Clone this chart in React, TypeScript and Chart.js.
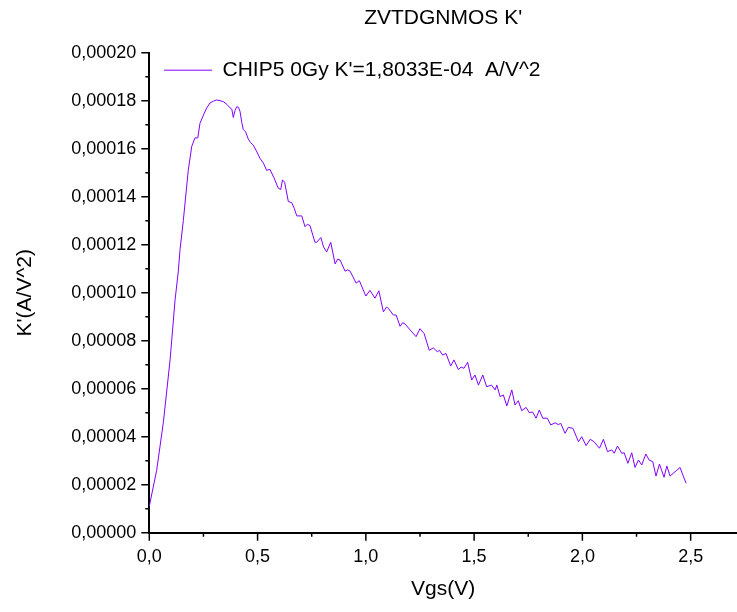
import React, { useEffect, useRef } from 'react';
import { Chart, registerables } from 'chart.js';

Chart.register(...registerables);

const CHART_TITLE = "ZVTDGNMOS K'";
const SERIES_LABEL = "CHIP5 0Gy K'=1,8033E-04  A/V^2";
const X_TITLE = 'Vgs(V)';
const Y_TITLE = "K'(A/V^2)";

const vgs = [
  0, 0.034, 0.065, 0.096, 0.119, 0.134, 0.142, 0.157, 0.18, 0.196,
  0.211, 0.224, 0.234, 0.25, 0.265, 0.28, 0.296, 0.311, 0.327, 0.342,
  0.358, 0.373, 0.381, 0.388, 0.396, 0.404, 0.412, 0.419, 0.427, 0.434,
  0.445, 0.457, 0.468, 0.48, 0.495, 0.511, 0.527, 0.542, 0.557, 0.575,
  0.596, 0.607, 0.615, 0.625, 0.642, 0.658, 0.67, 0.681, 0.697, 0.704,
  0.719, 0.73, 0.742, 0.765, 0.773, 0.792, 0.805, 0.819, 0.838, 0.858,
  0.87, 0.881, 0.904, 0.915, 0.927, 0.955, 0.97, 1.0, 1.019, 1.042,
  1.06, 1.081, 1.095, 1.104, 1.127, 1.14, 1.158, 1.17, 1.181, 1.204,
  1.232, 1.25, 1.269, 1.293, 1.312, 1.33, 1.34, 1.355, 1.37, 1.392,
  1.407, 1.427, 1.44, 1.453, 1.47, 1.489, 1.504, 1.52, 1.54, 1.558,
  1.58, 1.597, 1.605, 1.62, 1.635, 1.651, 1.674, 1.689, 1.704, 1.72,
  1.74, 1.755, 1.77, 1.786, 1.801, 1.817, 1.838, 1.854, 1.874, 1.889,
  1.9, 1.92, 1.935, 1.956, 1.982, 1.997, 2.017, 2.036, 2.054, 2.079,
  2.097, 2.116, 2.136, 2.147, 2.162, 2.182, 2.193, 2.21, 2.228, 2.243,
  2.259, 2.274, 2.293, 2.308, 2.325, 2.34, 2.356, 2.377, 2.39, 2.405,
  2.433, 2.451, 2.464, 2.479,
];

const kPrime = [
  1.1e-5, 2.6e-5, 4.6e-5, 7.2e-5, 9.7e-5, 10.9e-5, 11.8e-5, 13.0e-5, 15.1e-5, 16.1e-5,
  16.45e-5, 16.45e-5, 17.06e-5, 17.4e-5, 17.7e-5, 17.9e-5, 17.98e-5, 18.03e-5, 18.0e-5, 17.96e-5,
  17.85e-5, 17.7e-5, 17.65e-5, 17.3e-5, 17.6e-5, 17.75e-5, 17.72e-5, 17.55e-5, 17.1e-5, 16.8e-5,
  16.7e-5, 16.4e-5, 16.25e-5, 16.15e-5, 15.9e-5, 15.6e-5, 15.4e-5, 15.1e-5, 15.14e-5, 14.8e-5,
  14.35e-5, 14.3e-5, 14.7e-5, 14.6e-5, 13.8e-5, 13.75e-5, 13.5e-5, 13.2e-5, 13.2e-5, 13.2e-5,
  12.75e-5, 12.85e-5, 12.8e-5, 12.1e-5, 12.1e-5, 12.3e-5, 11.9e-5, 11.7e-5, 12.1e-5, 11.2e-5,
  11.4e-5, 11.36e-5, 10.9e-5, 10.95e-5, 10.9e-5, 10.4e-5, 10.5e-5, 9.86e-5, 10.1e-5, 9.77e-5,
  10.08e-5, 9.2e-5, 9.4e-5, 9.35e-5, 9.07e-5, 9.07e-5, 8.6e-5, 8.75e-5, 8.7e-5, 8.45e-5,
  8.17e-5, 8.5e-5, 8.3e-5, 7.6e-5, 7.7e-5, 7.54e-5, 7.6e-5, 7.4e-5, 7.47e-5, 6.95e-5,
  7.2e-5, 6.8e-5, 6.9e-5, 6.85e-5, 7.1e-5, 6.36e-5, 6.57e-5, 6.15e-5, 6.57e-5, 6.08e-5,
  6.15e-5, 5.95e-5, 6.15e-5, 5.67e-5, 5.74e-5, 5.28e-5, 5.95e-5, 5.32e-5, 5.5e-5, 5.08e-5,
  5.22e-5, 5.0e-5, 5.03e-5, 4.77e-5, 5.11e-5, 4.77e-5, 4.77e-5, 4.49e-5, 4.58e-5, 4.5e-5,
  4.56e-5, 4.14e-5, 4.39e-5, 4.35e-5, 3.79e-5, 4.0e-5, 3.63e-5, 3.89e-5, 3.79e-5, 3.52e-5,
  3.89e-5, 3.38e-5, 3.45e-5, 3.31e-5, 3.61e-5, 3.31e-5, 3.33e-5, 2.89e-5, 3.33e-5, 2.72e-5,
  3.03e-5, 2.82e-5, 3.28e-5, 3.03e-5, 2.96e-5, 2.36e-5, 2.86e-5, 2.31e-5, 2.78e-5, 2.36e-5,
  2.58e-5, 2.72e-5, 2.4e-5, 2.06e-5,
];

const xTicks = [0, 0.25, 0.5, 0.75, 1.0, 1.25, 1.5, 1.75, 2.0, 2.25, 2.5];
const yTicks = [
  0, 0.00001, 0.00002, 0.00003, 0.00004, 0.00005, 0.00006, 0.00007, 0.00008, 0.00009,
  0.0001, 0.00011, 0.00012, 0.00013, 0.00014, 0.00015, 0.00016, 0.00017, 0.00018, 0.00019,
  0.0002,
];
const X_MIN = 0;
const X_MAX = 2.714;
const Y_MIN = 0;
const Y_MAX = 0.0002;

const FONT = "'Liberation Sans', Arial, Helvetica, sans-serif";
const LINE_COLOR = '#8000FF';

const isMajorX = (v: number) => Math.abs(v * 2 - Math.round(v * 2)) < 1e-9;
const isMajorY = (v: number) => Math.round(v * 1e5) % 2 === 0;

export default function App() {
  const canvasRef = useRef<HTMLCanvasElement | null>(null);

  useEffect(() => {
    const canvas = canvasRef.current;
    if (!canvas) return;

    const tickPlugin = {
      id: 'originTicks',
      afterDraw(chart: any) {
        const { ctx, chartArea, scales } = chart;
        const xs = scales.x;
        const ys = scales.y;
        ctx.save();
        ctx.strokeStyle = '#000';
        ctx.lineWidth = 1.5;
        ctx.beginPath();
        xTicks.forEach((v) => {
          const px = xs.getPixelForValue(v);
          ctx.moveTo(px, chartArea.bottom);
          ctx.lineTo(px, chartArea.bottom + (isMajorX(v) ? 8 : 4));
        });
        yTicks.forEach((v) => {
          const py = ys.getPixelForValue(v);
          ctx.moveTo(chartArea.left, py);
          ctx.lineTo(chartArea.left - (isMajorY(v) ? 8 : 4), py);
        });
        ctx.stroke();
        ctx.restore();
      },
    };

    const legendPlace = {
      id: 'legendPlace',
      afterLayout(chart: any) {
        const lg = chart.legend;
        const ca = chart.chartArea;
        if (!lg || !ca) return;
        const w = lg.width;
        const h = lg.height;
        lg.left = ca.left + 7.7;
        lg.top = ca.top;
        lg.right = lg.left + w;
        lg.bottom = lg.top + h;
      },
    };

    const chart = new Chart(canvas, {
      type: 'line',
      data: {
        datasets: [
          {
            label: SERIES_LABEL,
            data: vgs.map((x, i) => ({ x, y: kPrime[i] })),
            borderColor: LINE_COLOR,
            backgroundColor: LINE_COLOR,
            borderWidth: 1,
            pointRadius: 0,
            tension: 0,
            fill: false,
          },
        ],
      },
      options: {
        responsive: false,
        animation: false,
        layout: { padding: 0 },
        plugins: {
          title: {
            display: true,
            text: CHART_TITLE,
            color: '#000',
            fullSize: false,
            font: { family: FONT, size: 21, weight: 'normal' },
            padding: { top: 5.4, bottom: 22.1 },
          },
          legend: {
            display: true,
            position: 'chartArea',
            align: 'start',
            labels: {
              color: '#000',
              font: { family: FONT, size: 21 },
              padding: 7,
              usePointStyle: true,
              pointStyle: 'line',
              pointStyleWidth: 48,
            },
          },
          tooltip: { enabled: false },
        },
        scales: {
          x: {
            type: 'linear',
            min: X_MIN,
            max: X_MAX,
            bounds: 'data',
            afterBuildTicks: (scale: any) => {
              scale.ticks = xTicks.map((value) => ({ value }));
            },
            afterFit: (scale: any) => {
              scale.height = 79.3;
            },
            grid: { display: false, drawTicks: false },
            border: { display: true, color: '#000', width: 2 },
            ticks: {
              autoSkip: false,
              maxRotation: 0,
              padding: 14,
              color: '#000',
              font: { family: FONT, size: 18 },
              callback: (value: any) => {
                const v = Number(value);
                return isMajorX(v) ? v.toFixed(1).replace('.', ',') : '';
              },
            },
            title: {
              display: true,
              text: X_TITLE,
              color: '#000',
              font: { family: FONT, size: 21 },
              padding: { top: 0, bottom: 10.4 },
            },
          },
          y: {
            type: 'linear',
            min: Y_MIN,
            max: Y_MAX,
            bounds: 'data',
            afterBuildTicks: (scale: any) => {
              scale.ticks = yTicks.map((value) => ({ value }));
            },
            afterFit: (scale: any) => {
              scale.width = 149.3;
            },
            grid: { display: false, drawTicks: false },
            border: { display: true, color: '#000', width: 2 },
            ticks: {
              autoSkip: false,
              padding: 13,
              color: '#000',
              font: { family: FONT, size: 18 },
              callback: (value: any) => {
                const v = Number(value);
                return isMajorY(v) ? v.toFixed(5).replace('.', ',') : '';
              },
            },
            title: {
              display: true,
              text: Y_TITLE,
              color: '#000',
              font: { family: FONT, size: 21 },
              padding: { top: 12.4, bottom: 0 },
            },
          },
        },
      } as any,
      plugins: [tickPlugin, legendPlace],
    });

    return () => {
      chart.destroy();
    };
  }, []);

  return (
    <div style={{ position: 'absolute', left: 0, top: 0, width: 737, height: 612, background: '#fff' }}>
      <canvas ref={canvasRef} width={737} height={612} style={{ display: 'block' }} />
    </div>
  );
}
